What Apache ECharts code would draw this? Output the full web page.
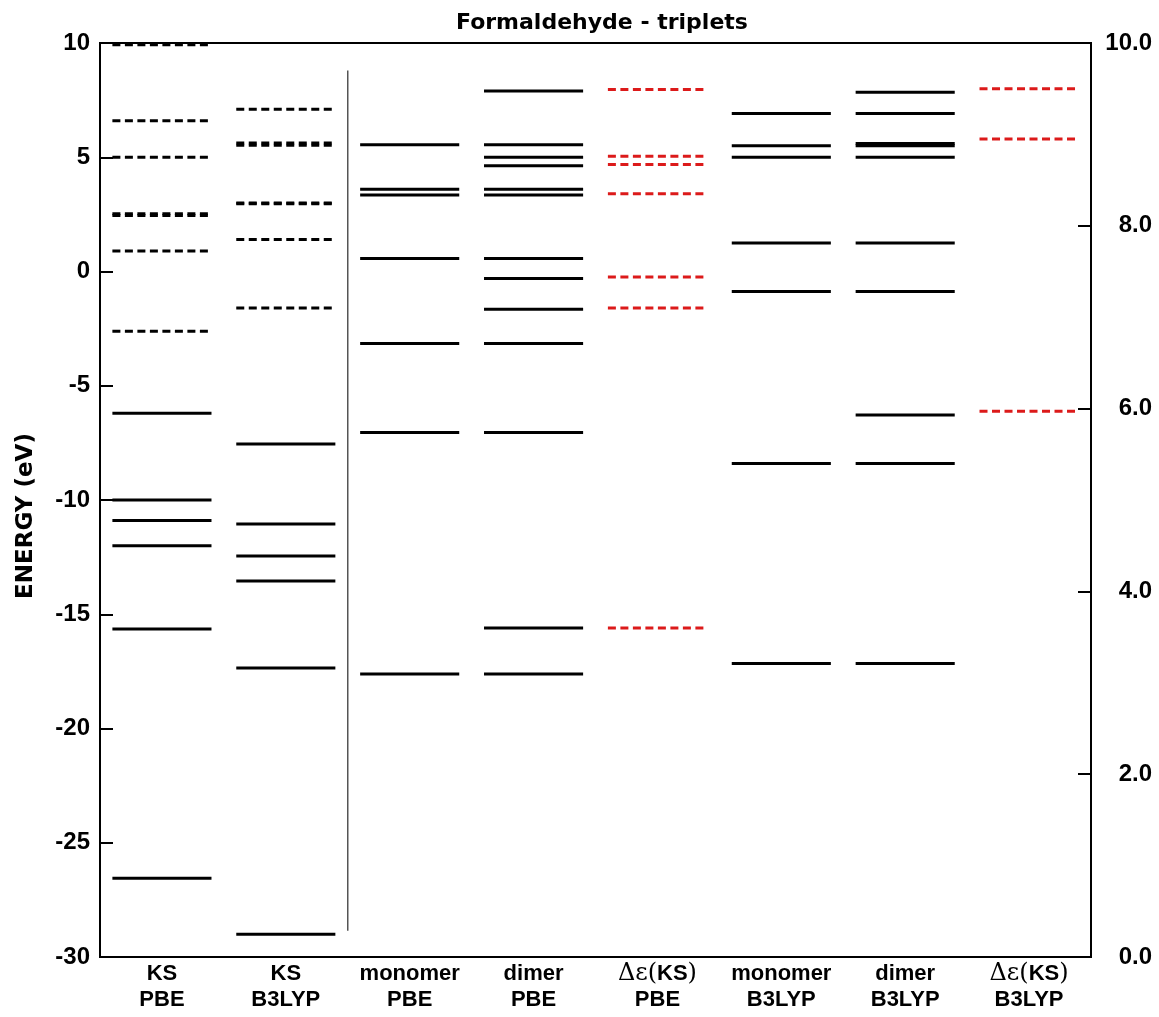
<!DOCTYPE html>
<html>
<head>
<meta charset="utf-8">
<title>Formaldehyde - triplets</title>
<script src="https://cdn.jsdelivr.net/npm/echarts@6/dist/echarts.min.js"></script>
<style>
  html, body { margin: 0; padding: 0; background: #fff; }
  #chart { width: 1159px; height: 1017px; }
</style>
</head>
<body>
<div id="chart"></div>
<script>
// column names, bottom axis
var categories = ['KS\nPBE', 'KS\nB3LYP', 'monomer\nPBE', 'dimer\nPBE', 'Δε(KS)\nPBE',
                  'monomer\nB3LYP', 'dimer\nB3LYP', 'Δε(KS)\nB3LYP']

// left axis, eV
var ksPbeOccupied = [-6.2, -10.0, -10.9, -12.0, -15.65, -26.55]
var ksPbeVirtual = [9.92, 6.6, 5.0, 2.53, 2.45, 0.9, -2.62]
var ksB3lypOccupied = [-7.55, -11.05, -12.45, -13.55, -17.35, -29.0]
var ksB3lypVirtual = [7.1, 5.62, 5.53, 3.0, 2.96, 1.4, -1.6]
var monomerPbe = [5.55, 3.6, 3.35, 0.57, -3.15, -7.05, -17.62]
var dimerPbe = [7.9, 5.55, 5.0, 4.63, 3.6, 3.35, 0.57, -0.31, -1.65, -3.15, -7.05, -15.6, -17.62]
var monomerB3lyp = [6.92, 5.5, 5.0, 1.25, -0.88, -8.4, -17.15]
var dimerB3lyp = [7.85, 6.92, 5.6, 5.5, 5.0, 1.25, -0.88, -6.28, -8.4, -17.15]

// right axis
var deltaPbe = [9.49, 8.76, 8.67, 8.35, 7.44, 7.10, 3.60]
var deltaB3lyp = [9.50, 8.95, 5.97]

// thin separator after column 1 (left axis values)
var separator = [8.8, -28.85]

var leftTicks = { min: -30, max: 10, step: 5 }
var rightTicks = { min: 0, max: 10, step: 2 }

function pairs(col, values) {
  return values.map(function (v) { return [col, v] })
}

function levelRenderer(color, dash) {
  return function (params, api) {
    var c = api.coord([api.value(0), api.value(1)])
    var half = api.size([1, 0])[0] * 0.4
    return {
      type: 'line',
      shape: { x1: c[0] - half, y1: c[1], x2: c[0] + half, y2: c[1] },
      style: { stroke: color, lineWidth: 3, lineDash: dash }
    }
  }
}

function levelSeries(data, color, dash, yIndex) {
  return {
    type: 'custom',
    yAxisIndex: yIndex || 0,
    clip: false,
    silent: true,
    renderItem: levelRenderer(color, dash),
    data: data
  }
}

var dash = [8, 4.5]
var red = '#dc1a1a'
var sans = '"Liberation Sans", Arial, sans-serif'

var chart = echarts.init(document.getElementById('chart'))
chart.setOption({
  animation: false,
  backgroundColor: '#fff',
  title: {
    text: 'Formaldehyde - triplets',
    left: 451,
    top: 7,
    textStyle: { fontFamily: 'DejaVu Sans', fontWeight: 'bold', fontSize: 22, color: '#000' }
  },
  grid: {
    left: 100, right: 68, top: 43, bottom: 60,
    show: true, borderColor: '#000', borderWidth: 2, backgroundColor: 'transparent'
  },
  xAxis: {
    type: 'category',
    data: categories,
    boundaryGap: true,
    axisLine: { onZero: false, lineStyle: { color: '#000', width: 2 } },
    axisTick: { show: false },
    splitLine: { show: false },
    axisLabel: {
      interval: 0,
      margin: 4,
      color: '#000',
      fontFamily: sans,
      fontWeight: 'bold',
      fontSize: 22,
      lineHeight: 26,
      formatter: function (v) {
        return v.replace('Δε(KS)', '{s|Δε(}KS{s|)}')
      },
      rich: {
        s: { fontFamily: 'DejaVu Serif', fontWeight: 'normal', fontSize: 24, color: '#000', lineHeight: 26 }
      }
    }
  },
  yAxis: [{
    type: 'value',
    position: 'left',
    min: leftTicks.min, max: leftTicks.max, interval: leftTicks.step,
    name: 'ENERGY (eV)',
    nameLocation: 'middle',
    nameGap: 62,
    nameTextStyle: { fontFamily: 'DejaVu Sans', fontWeight: 'bold', fontSize: 23, color: '#000', padding: [0, 32, 0, 0] },
    axisLine: { show: true, lineStyle: { color: '#000', width: 2 } },
    axisTick: { show: true, inside: true, length: 13, lineStyle: { color: '#000', width: 2 } },
    splitLine: { show: false },
    axisLabel: { margin: 10, color: '#000', fontFamily: sans, fontWeight: 'bold', fontSize: 24 }
  }, {
    type: 'value',
    position: 'right',
    min: rightTicks.min, max: rightTicks.max, interval: rightTicks.step,
    axisLine: { show: true, lineStyle: { color: '#000', width: 2 } },
    axisTick: { show: true, inside: true, length: 13, lineStyle: { color: '#000', width: 2 } },
    splitLine: { show: false },
    axisLabel: {
      margin: 61, align: 'right', color: '#000',
      fontFamily: sans, fontWeight: 'bold', fontSize: 24,
      formatter: function (v) { return v.toFixed(1) }
    }
  }],
  series: [
    levelSeries(pairs(0, ksPbeOccupied), '#000', null),
    levelSeries(pairs(0, ksPbeVirtual), '#000', dash),
    levelSeries(pairs(1, ksB3lypOccupied), '#000', null),
    levelSeries(pairs(1, ksB3lypVirtual), '#000', dash),
    levelSeries(pairs(2, monomerPbe), '#000', null),
    levelSeries(pairs(3, dimerPbe), '#000', null),
    levelSeries(pairs(4, deltaPbe), red, dash, 1),
    levelSeries(pairs(5, monomerB3lyp), '#000', null),
    levelSeries(pairs(6, dimerB3lyp), '#000', null),
    levelSeries(pairs(7, deltaB3lyp), red, dash, 1),
    {
      type: 'custom',
      clip: false,
      silent: true,
      data: [[1, separator[0], separator[1]]],
      renderItem: function (params, api) {
        var top = api.coord([api.value(0), api.value(1)])
        var bottom = api.coord([api.value(0), api.value(2)])
        var x = top[0] + api.size([1, 0])[0] / 2
        return {
          type: 'line',
          shape: { x1: x, y1: top[1], x2: x, y2: bottom[1] },
          style: { stroke: '#555', lineWidth: 1.5 }
        }
      }
    }
  ]
})
</script>
</body>
</html>
